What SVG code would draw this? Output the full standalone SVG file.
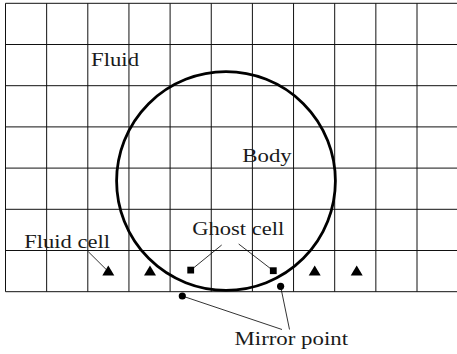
<svg xmlns="http://www.w3.org/2000/svg" width="457" height="354" viewBox="0 0 457 354">
<style>
.g{stroke:#111;stroke-width:1;fill:none}
.l{stroke:#000;stroke-width:0.8;fill:none}
.t{font-family:"Liberation Serif","DejaVu Serif",serif;font-size:18.5px;fill:#1a1a1a}
.m{fill:#000}
</style>
<rect width="457" height="354" fill="#fff"/>
<g id="grid" class="g">
<path d="M5.5 3.3H457M5.5 44.5H457M5.5 85.7H457M5.5 126.9H457M5.5 168.1H457M5.5 209.3H457M5.5 250.5H457M5.5 291.7H457"/>
<path d="M5.5 3.3V291.7M46.65 3.3V291.7M87.8 3.3V291.7M128.95 3.3V291.7M170.1 3.3V291.7M211.25 3.3V291.7M252.4 3.3V291.7M293.55 3.3V291.7M334.7 3.3V291.7M375.85 3.3V291.7M417 3.3V291.7"/>
</g>
<g id="body">
<circle cx="226" cy="181" r="109.4" fill="none" stroke="#000" stroke-width="2.8"/>
</g>
<g id="fluid-cells" class="m">
<polygon points="108.3,265.5 102.3,275.5 114.3,275.5"/>
<polygon points="150,265.5 144,275.5 156,275.5"/>
<polygon points="314.7,265.5 308.7,275.5 320.7,275.5"/>
<polygon points="356.7,265.5 350.7,275.5 362.7,275.5"/>
</g>
<g id="ghost-cells" class="m">
<rect x="187.3" y="266.7" width="6.8" height="6.8"/>
<rect x="269.9" y="267.3" width="6.8" height="6.8"/>
</g>
<g id="mirror-points" class="m">
<circle cx="182.3" cy="296" r="3.6"/>
<circle cx="280.6" cy="286.3" r="3.6"/>
</g>
<g id="connectors" class="l">
<line x1="88.3" y1="251.7" x2="106" y2="269.3"/>
<line x1="221.7" y1="245" x2="191" y2="270"/>
<line x1="238.7" y1="244" x2="273" y2="270.5"/>
<line x1="182.3" y1="296" x2="282" y2="329.5"/>
<line x1="280.6" y1="286.3" x2="289.5" y2="329.5"/>
</g>
<g id="labels" class="t">
<text x="91" y="66" textLength="48" lengthAdjust="spacingAndGlyphs">Fluid</text>
<text x="242.3" y="162.3" textLength="49.5" lengthAdjust="spacingAndGlyphs">Body</text>
<text x="24.3" y="247.5" textLength="85.7" lengthAdjust="spacingAndGlyphs">Fluid cell</text>
<text x="192.3" y="235" textLength="92" lengthAdjust="spacingAndGlyphs">Ghost cell</text>
<text x="234.5" y="344.5" textLength="113.5" lengthAdjust="spacingAndGlyphs">Mirror point</text>
</g>
</svg>
